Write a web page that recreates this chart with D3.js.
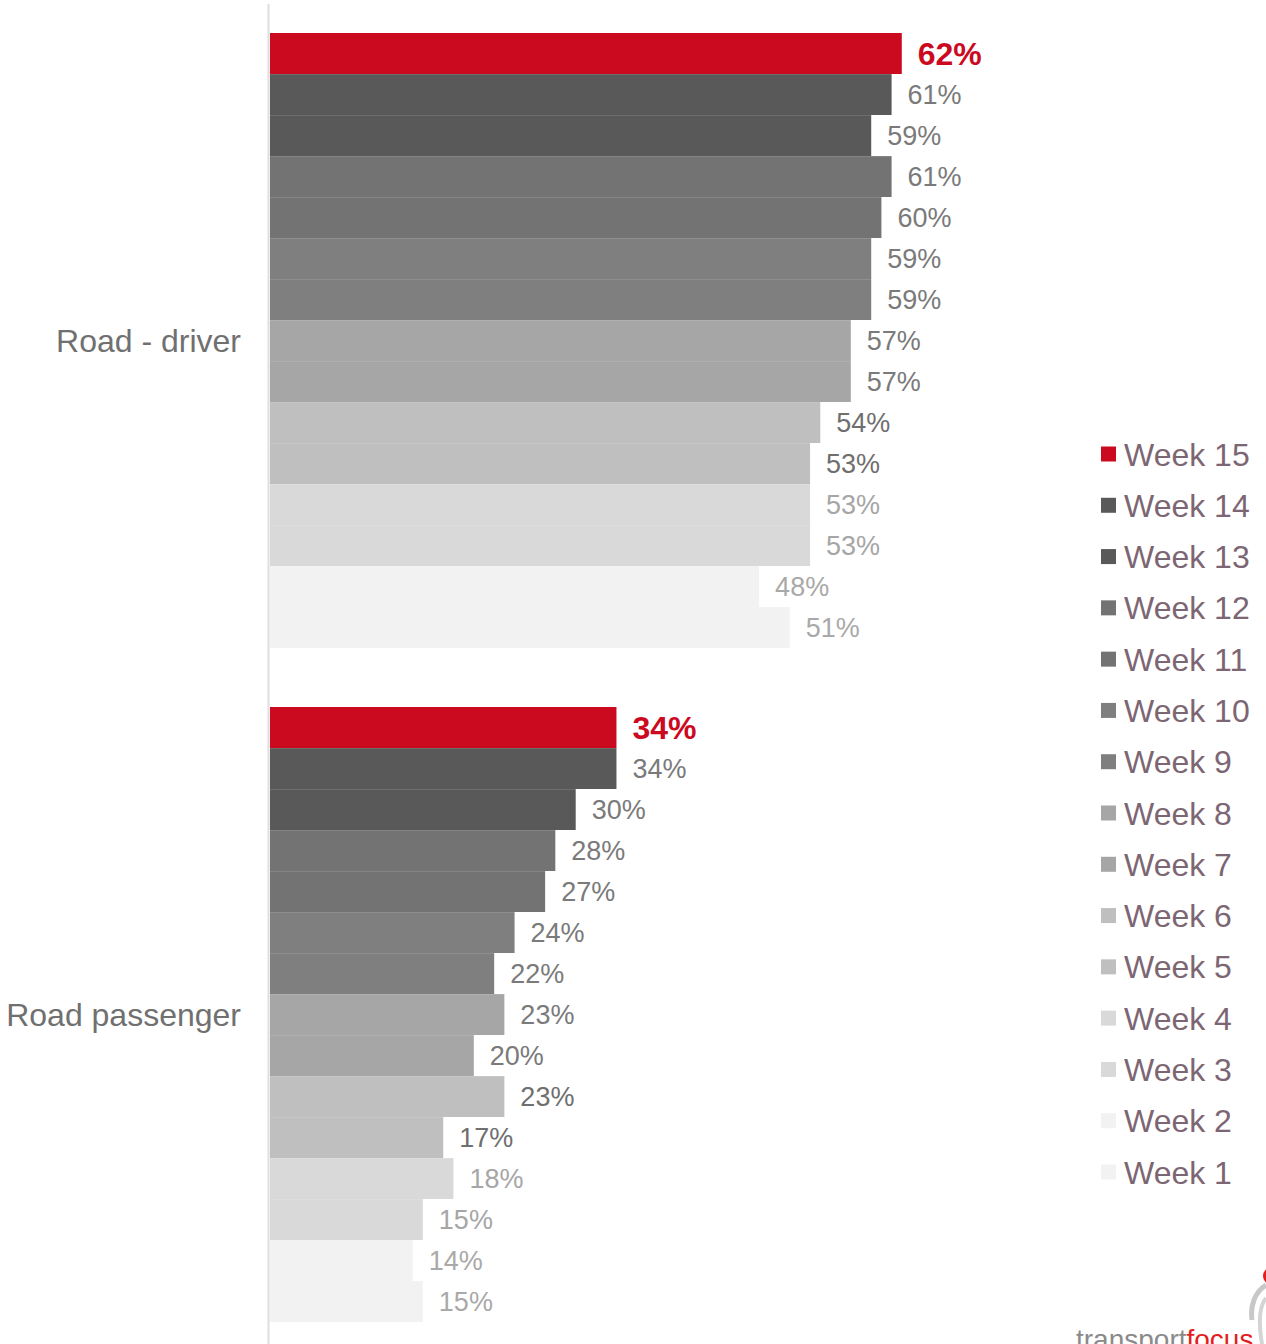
<!DOCTYPE html>
<html>
<head>
<meta charset="utf-8">
<script src="https://cdn.jsdelivr.net/npm/d3@7"></script>
<style>
  html, body { margin: 0; padding: 0; background: #fff; }
  svg { display: block; font-family: "Liberation Sans", Arial, sans-serif; }
</style>
</head>
<body>
<svg id="chart" width="1266" height="1344"></svg>
<script>
const categories = ["Road - driver", "Road passenger"];
const weeks = ["Week 15","Week 14","Week 13","Week 12","Week 11","Week 10","Week 9","Week 8","Week 7","Week 6","Week 5","Week 4","Week 3","Week 2","Week 1"];
const roadDriver    = [62, 61, 59, 61, 60, 59, 59, 57, 57, 54, 53, 53, 53, 48, 51];
const roadPassenger = [34, 34, 30, 28, 27, 24, 22, 23, 20, 23, 17, 18, 15, 14, 15];
const weekColors = ["#cc0a1f","#595959","#595959","#737373","#737373","#7f7f7f","#7f7f7f","#a6a6a6","#a6a6a6","#bfbfbf","#bfbfbf","#d9d9d9","#d9d9d9","#f2f2f2","#f2f2f2"];
const labelColors = ["#cc0a1f","#7a7a7a","#7a7a7a","#7a7a7a","#7a7a7a","#7a7a7a","#7a7a7a","#7a7a7a","#7a7a7a","#6f6f6f","#6f6f6f","#a6a6a6","#a6a6a6","#a9a9a9","#a9a9a9"];

const series = { "Road - driver": roadDriver, "Road passenger": roadPassenger };

const svg = d3.select("#chart");

const x = d3.scaleLinear().domain([0, 100]).range([270, 270 + 1019]);
const yGroup = d3.scaleBand().domain(categories).range([33, 1322]).paddingInner(59/674).paddingOuter(0);
const yWeek = d3.scaleBand().domain(weeks).range([0, yGroup.bandwidth()]).padding(0);

// axis line
svg.append("line")
  .attr("x1", 268.5).attr("x2", 268.5)
  .attr("y1", 4).attr("y2", 1344)
  .attr("stroke", "#e2dcde").attr("stroke-width", 2);

categories.forEach(cat => {
  const g = svg.append("g").attr("transform", `translate(0,${yGroup(cat)})`);
  const vals = series[cat];
  const data = weeks.map((w, i) => ({ w, v: vals[i], i }));
  g.selectAll("rect.bar").data(data).join("rect")
    .attr("class", "bar")
    .attr("x", x(0))
    .attr("y", d => yWeek(d.w))
    .attr("width", d => x(d.v) - x(0))
    .attr("height", yWeek.bandwidth())
    .attr("fill", d => weekColors[d.i]);
  // subtle separators
  g.selectAll("line.sep").data(data.slice(1)).join("line")
    .attr("class", "sep")
    .attr("x1", x(0)).attr("x2", d => x(d.v))
    .attr("y1", d => yWeek(d.w) + 0.5).attr("y2", d => yWeek(d.w) + 0.5)
    .attr("stroke", "#ffffff").attr("stroke-opacity", 0.12);
  g.selectAll("text.val").data(data).join("text")
    .attr("class", "val")
    .attr("x", d => x(d.v) + 16)
    .attr("y", d => yWeek(d.w) + yWeek.bandwidth() / 2)
    .attr("dy", "0.36em")
    .attr("font-size", d => d.i === 0 ? 32 : 27)
    .attr("font-weight", d => d.i === 0 ? "bold" : "normal")
    .attr("fill", d => labelColors[d.i])
    .text(d => d.v + "%");
  // category label
  svg.append("text")
    .attr("x", 241)
    .attr("y", yGroup(cat) + yGroup.bandwidth() / 2)
    .attr("dy", "0.36em")
    .attr("text-anchor", "end")
    .attr("font-size", 32)
    .attr("fill", "#707070")
    .text(cat);
});

// legend
const legendY = d3.scalePoint().domain(weeks).range([454, 1172]);
const lg = svg.append("g");
weeks.forEach((w, i) => {
  lg.append("rect")
    .attr("x", 1101).attr("y", legendY(w) - 7.5)
    .attr("width", 15).attr("height", 15)
    .attr("fill", weekColors[i]);
  lg.append("text")
    .attr("x", 1124).attr("y", legendY(w))
    .attr("dy", "0.36em")
    .attr("font-size", 32)
    .attr("fill", "#7d6673")
    .text(w);
});

// logo (partially visible, as in the reference)
const logo = svg.append("g");
const lt = logo.append("text").attr("x", 1076).attr("y", 1349).attr("font-size", 28);
lt.append("tspan").attr("fill", "#8a8a8a").text("transport");
lt.append("tspan").attr("fill", "#e41d1d").text("focus");
logo.append("path")
  .attr("d", "M1266,1285 C1255,1292 1250,1305 1252,1320")
  .attr("fill", "none").attr("stroke", "#c8c8c8").attr("stroke-width", 5);
logo.append("path")
  .attr("d", "M1266,1298 C1260,1305 1258,1320 1262,1344")
  .attr("fill", "none").attr("stroke", "#d4d4d4").attr("stroke-width", 4);
logo.append("circle").attr("cx", 1272).attr("cy", 1276).attr("r", 9).attr("fill", "#e41d1d");
</script>
</body>
</html>
